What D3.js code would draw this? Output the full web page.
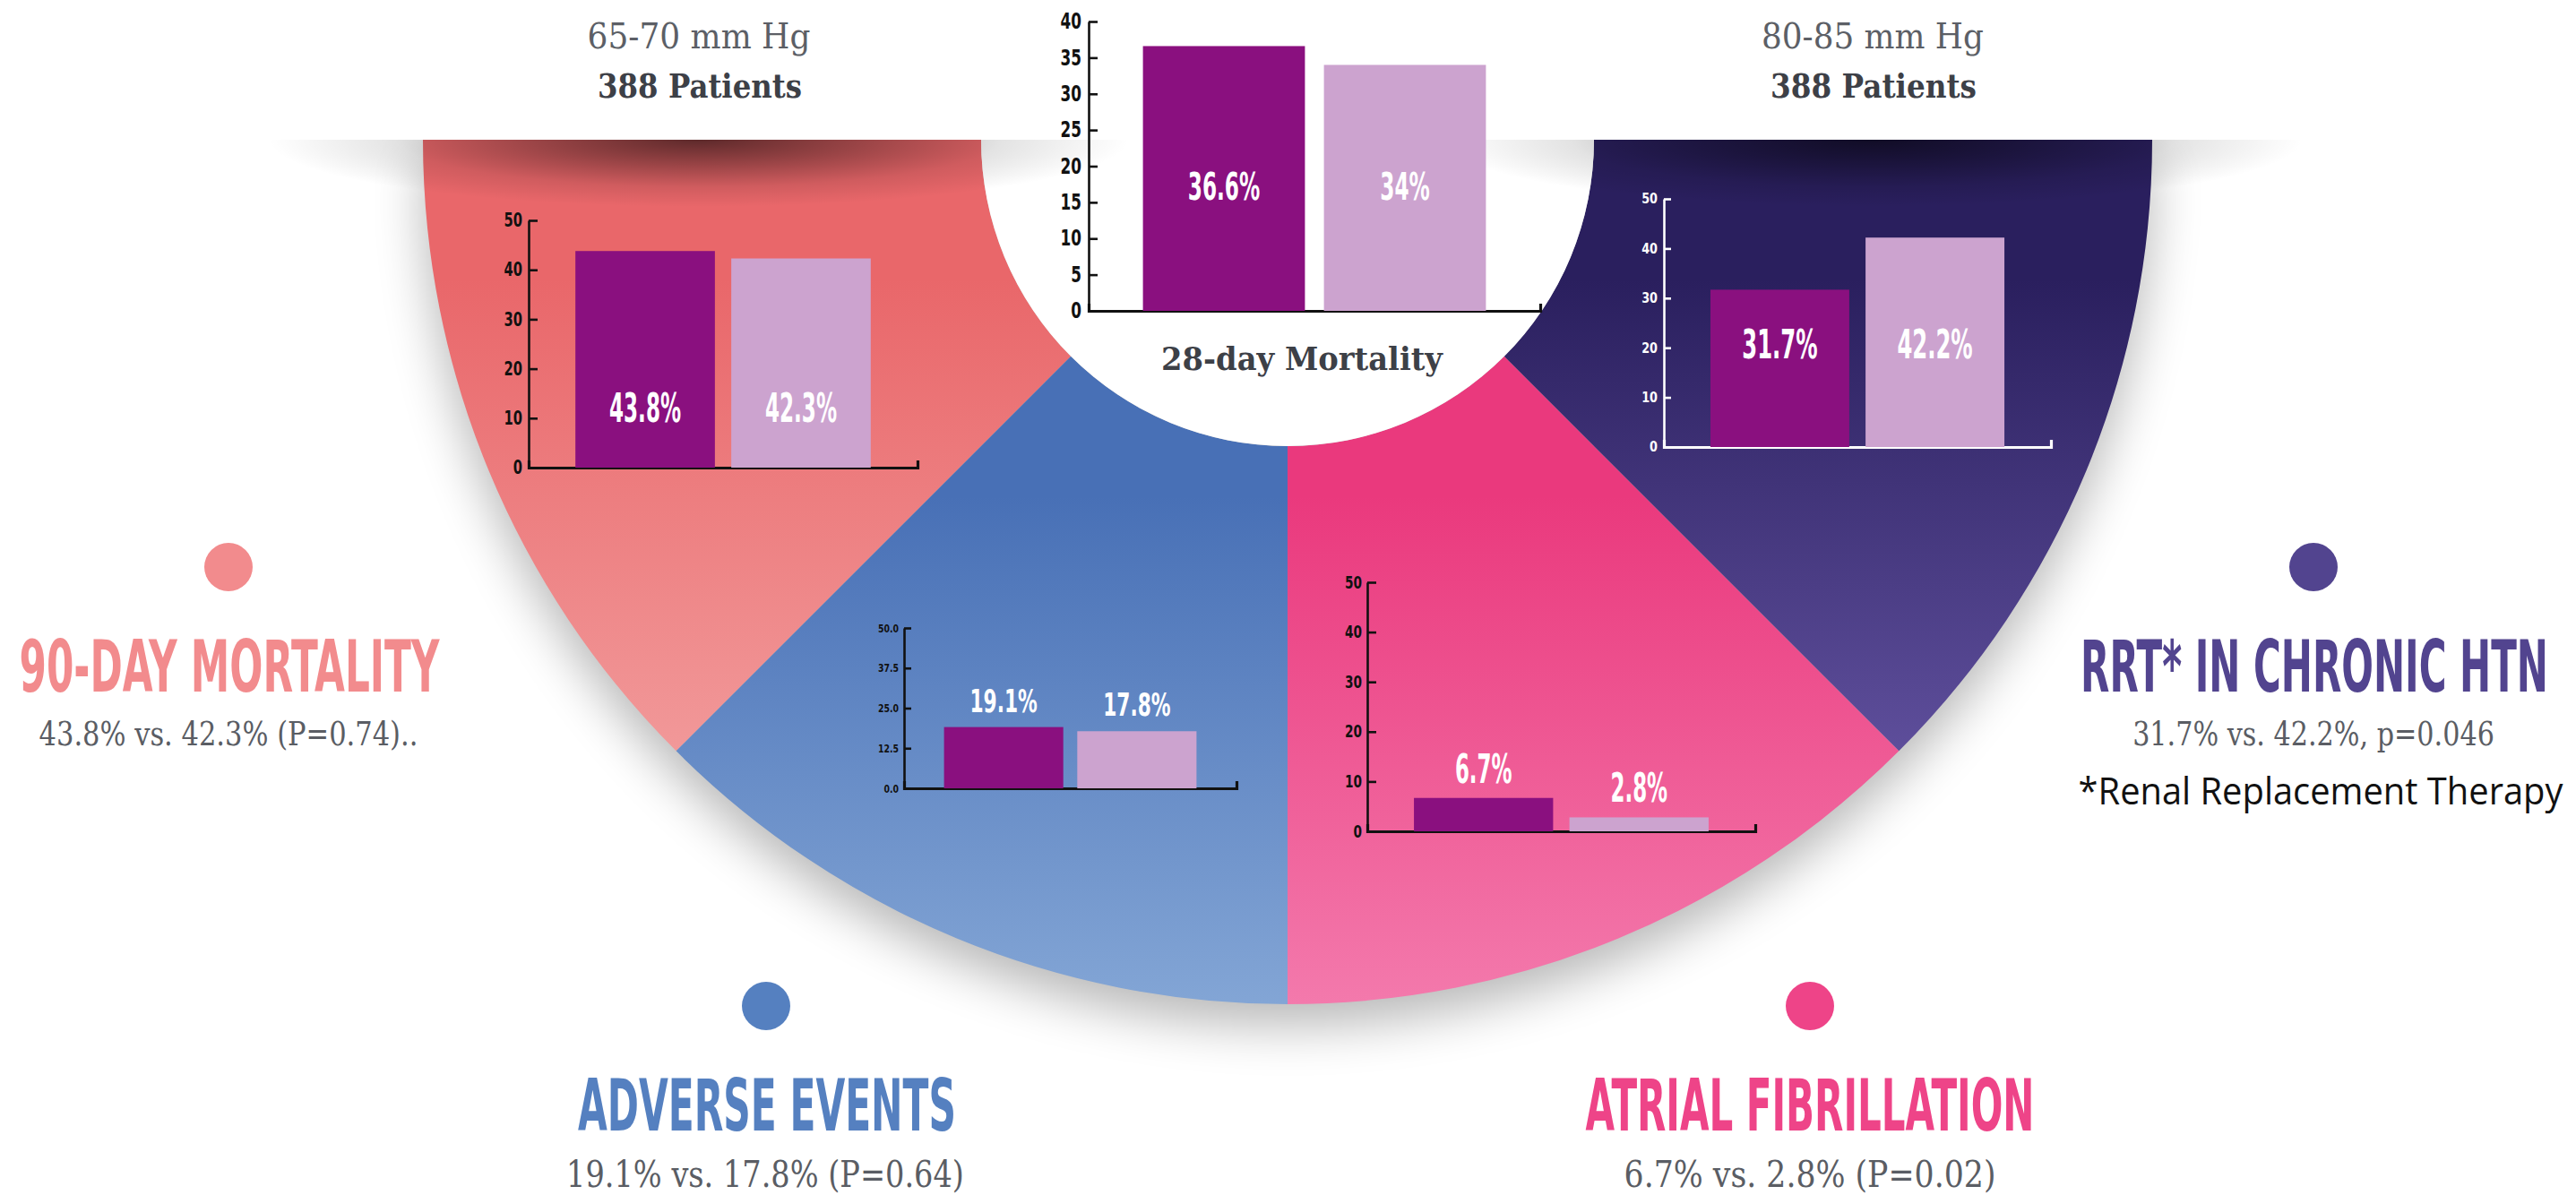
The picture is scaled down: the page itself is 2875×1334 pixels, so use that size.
<!DOCTYPE html>
<html><head><meta charset="utf-8">
<script src="https://cdn.jsdelivr.net/npm/d3@7"></script>
<style>
html,body{margin:0;padding:0;background:#fff;}
svg{display:block;}
</style></head><body>
<svg id="c" width="2875" height="1334"></svg>
<script>
// ---------------- data ----------------
const groups = ["65-70 mm Hg", "80-85 mm Hg"];
const groupSizes = ["388 Patients", "388 Patients"];
const outcomes = ["28-day Mortality", "90-DAY MORTALITY", "ADVERSE EVENTS", "ATRIAL FIBRILLATION", "RRT* IN CHRONIC HTN"];
const lowTarget = [36.6, 43.8, 19.1, 6.7, 31.7];
const highTarget = [34, 42.3, 17.8, 2.8, 42.2];
const yMaxima = [40, 50, 50, 50, 50];
const yTickSteps = [5, 10, 12.5, 10, 10];
const yTickFormats = ["d", "d", ".1f", "d", "d"];
const summaries = ["", "43.8% vs. 42.3% (P=0.74)..", "19.1% vs. 17.8% (P=0.64)", "6.7% vs. 2.8% (P=0.02)", "31.7% vs. 42.2%, p=0.046"];
const footnote = "*Renal Replacement Therapy";

// ---------------- styles / layout ----------------
const COND = "'Liberation Sans Narrow','DejaVu Sans Condensed','Roboto Condensed','Arial Narrow','DejaVu Sans',sans-serif";
const SLAB = "'Roboto Slab','DejaVu Serif',serif";
const barColors = ["#8a107f", "#cca3cf"];
const cx = 1437, cy = 156, R = 965, R0 = 342;
const P = Math.PI;
const wedges = [
  {a0:5*P/4, a1:3*P/2, c0:"#e9676a", c1:"#f4a7a7", y0:156, y1:840},
  {a0:P, a1:5*P/4, c0:"#4870b6", c1:"#93b4de", y0:398, y1:1121},
  {a0:3*P/4, a1:P, c0:"#ea397d", c1:"#f68bb9", y0:398, y1:1121},
  {a0:P/2, a1:3*P/4, c0:"#2a1f5e", c1:"#6d5cad", y0:156, y1:840}
];
const frames = [
  {x0:1215, x1:1719, yB:347, yT:24, axis:"#111", tf:24, tk:0.78, tl:10, pad:8, mode:"in", lb:223, ls:43, k:0.6},
  {x0:590, x1:1024, yB:522, yT:246, axis:"#111", tf:21, tk:0.78, tl:10, pad:7, mode:"in", lb:471, ls:45, k:0.57},
  {x0:1009, x1:1380, yB:880, yT:701, axis:"#111", tf:13, tk:0.8, tl:8, pad:6, mode:"above", gap:17, ls:35, k:0.69},
  {x0:1526, x1:1959, yB:928, yT:650, axis:"#111", tf:19, tk:0.8, tl:10, pad:6, mode:"above", gap:17, ls:44, k:0.58},
  {x0:1857, x1:2289, yB:499, yT:222, axis:"#fff", tf:15, tk:0.95, tl:8, pad:7, mode:"in", lb:400, ls:45, k:0.6}
];
const blocks = [
  null,
  {dot:[255,633], tx:256, ty:772, tw:469, sx:255, sy:832, sw:423, ss:37, color:"#f28b8d"},
  {dot:[855,1123], tx:856, ty:1262, tw:422, sx:854, sy:1325, sw:444, ss:41, color:"#5580c0"},
  {dot:[2020,1123], tx:2020, ty:1262, tw:501, sx:2020, sy:1325, sw:415, ss:41, color:"#ee4488"},
  {dot:[2582,633], tx:2583, ty:772, tw:522, sx:2582, sy:832, sw:404, ss:37, color:"#52448f"}
];
const headers = [
  {x:780, w1:249, w2:228},
  {x:2090, w1:248, w2:230}
];

const svg = d3.select("#c");
const defs = svg.append("defs");

// horizontally scale a text (anchored at its x) to a target width or by a factor
function fitW(sel, w){
  const n = sel.node(); const w0 = n.getComputedTextLength();
  const x = +sel.attr("x"), y = +sel.attr("y");
  sel.attr("x",0).attr("y",0).attr("transform",`translate(${x},${y}) scale(${w/w0},1)`);
  return sel;
}
function squeeze(sel, k){
  sel.each(function(){
    const s = d3.select(this); const x = +s.attr("x") || 0, y = +s.attr("y") || 0;
    s.attr("x",0).attr("y",0).attr("transform",`translate(${x},${y}) scale(${k},1)`);
  });
}

// gradients
wedges.forEach((w,i)=>{
  const g = defs.append("linearGradient").attr("id","wg"+i).attr("gradientUnits","userSpaceOnUse")
    .attr("x1",0).attr("x2",0).attr("y1",w.y0).attr("y2",w.y1);
  g.append("stop").attr("offset",0).attr("stop-color",w.c0);
  g.append("stop").attr("offset",1).attr("stop-color",w.c1);
});
const rg = defs.append("radialGradient").attr("id","topShade");
[[0,0.6],[0.35,0.36],[0.7,0.11],[1,0]].forEach(s=>rg.append("stop").attr("offset",s[0]).attr("stop-color","#000").attr("stop-opacity",s[1]));
defs.append("filter").attr("id","blur").attr("x","-20%").attr("y","-20%").attr("width","140%").attr("height","150%")
  .append("feGaussianBlur").attr("stdDeviation",28);
defs.append("clipPath").attr("id","below").append("rect").attr("x",0).attr("y",cy).attr("width",2875).attr("height",1334-cy);

// outer soft shadow
const halfDisc = d3.arc().innerRadius(0).outerRadius(R).startAngle(P/2).endAngle(3*P/2);
svg.append("g").attr("clip-path","url(#below)")
  .append("path").attr("d",halfDisc()).attr("transform",`translate(${cx},${cy+24})`)
  .attr("fill","#000").attr("opacity",0.28).attr("filter","url(#blur)");

// wedges
const arc = d3.arc().innerRadius(R0).outerRadius(R);
const wg = svg.append("g").attr("transform",`translate(${cx},${cy})`);
wg.selectAll("path").data(wedges).join("path")
  .attr("d",d=>arc({startAngle:d.a0,endAngle:d.a1}))
  .attr("fill",(d,i)=>`url(#wg${i})`);
wg.append("circle").attr("r",R0).attr("fill","#fff");

// top band shadows
const shade = svg.append("g").attr("clip-path","url(#below)");
headers.forEach(h=>{
  shade.append("ellipse").attr("cx",h.x).attr("cy",cy).attr("rx",480).attr("ry",75).attr("fill","url(#topShade)");
});

// header texts
headers.forEach((h,i)=>{
  fitW(svg.append("text").attr("x",h.x).attr("y",54).attr("text-anchor","middle")
    .attr("font-family",SLAB).attr("font-size",40).attr("fill","#5c5f66").text(groups[i]), h.w1);
  fitW(svg.append("text").attr("x",h.x+1).attr("y",109).attr("text-anchor","middle")
    .attr("font-family",SLAB).attr("font-size",37).attr("font-weight",700).attr("fill","#3d4047").text(groupSizes[i]), h.w2);
});

// bar charts
frames.forEach((f,i)=>{
  const g = svg.append("g");
  const x = d3.scaleBand().domain(groups).range([f.x0,f.x1]).paddingInner(0.105).paddingOuter(0.3);
  const y = d3.scaleLinear().domain([0,yMaxima[i]]).range([f.yB,f.yT]);
  const vals = [lowTarget[i], highTarget[i]];
  const ticks = d3.range(0, yMaxima[i]+1e-9, yTickSteps[i]);

  const xa = g.append("g").attr("transform",`translate(0,${f.yB})`)
    .call(d3.axisBottom(x).tickSizeInner(0).tickSizeOuter(-8).tickFormat(""));
  xa.select(".domain").attr("stroke",f.axis).attr("stroke-width",3.2);

  g.append("g").selectAll("rect").data(vals).join("rect")
    .attr("x",(d,j)=>x(groups[j])).attr("width",x.bandwidth())
    .attr("y",d=>y(d)).attr("height",d=>y(0)-y(d))
    .attr("fill",(d,j)=>barColors[j]);

  const ya = g.append("g").attr("transform",`translate(${f.x0},0)`)
    .call(d3.axisLeft(y).tickValues(ticks).tickFormat(d3.format(yTickFormats[i]))
      .tickSizeInner(-f.tl).tickSizeOuter(0).tickPadding(f.pad));
  ya.select(".domain").attr("stroke",f.axis).attr("stroke-width",2.6);
  ya.selectAll(".tick line").attr("stroke",f.axis).attr("stroke-width",2.6);
  const tt = ya.selectAll(".tick text").attr("fill",f.axis).attr("font-family",COND)
    .attr("font-size",f.tf).attr("font-weight",700);
  squeeze(tt, f.tk);

  const lab = g.append("g").selectAll("text").data(vals).join("text")
    .attr("x",(d,j)=>x(groups[j])+x.bandwidth()/2)
    .attr("y",d=> f.mode==="in" ? f.lb : y(d)-f.gap)
    .attr("text-anchor","middle").attr("fill","#fff")
    .attr("font-family",COND).attr("font-weight",700).attr("font-size",f.ls)
    .text(d=>d+"%");
  squeeze(lab, f.k);
});

// center chart title
fitW(svg.append("text").attr("x",1453).attr("y",413).attr("text-anchor","middle")
  .attr("font-family",SLAB).attr("font-size",35).attr("font-weight",700).attr("fill","#3d4047")
  .text(outcomes[0]), 314);

// legend blocks
blocks.forEach((b,i)=>{
  if(!b) return;
  svg.append("circle").attr("cx",b.dot[0]).attr("cy",b.dot[1]).attr("r",27).attr("fill",b.color);
  fitW(svg.append("text").attr("x",b.tx).attr("y",b.ty).attr("text-anchor","middle")
    .attr("font-family",COND).attr("font-weight",700).attr("font-size",81).attr("fill",b.color)
    .text(outcomes[i]), b.tw);
  fitW(svg.append("text").attr("x",b.sx).attr("y",b.sy).attr("text-anchor","middle")
    .attr("font-family",SLAB).attr("font-size",b.ss).attr("fill","#5a5d64")
    .text(summaries[i]), b.sw);
});
fitW(svg.append("text").attr("x",2590).attr("y",898).attr("text-anchor","middle")
  .attr("font-family","'Open Sans',sans-serif").attr("font-size",42).attr("fill","#111")
  .text(footnote), 541);
</script>
</body></html>
